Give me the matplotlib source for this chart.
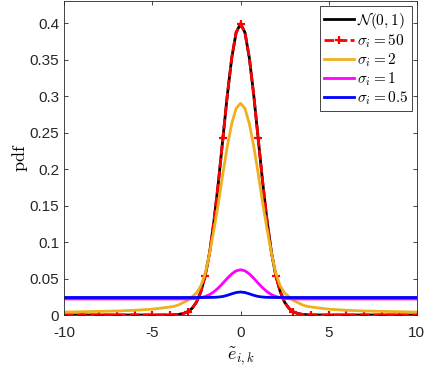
import numpy as np
import matplotlib
matplotlib.use('Agg')
import matplotlib.pyplot as plt

plt.rcParams['font.family'] = ['Liberation Sans', 'DejaVu Sans']
plt.rcParams['mathtext.fontset'] = 'cm'

# ______ values (symmetric about 0) ______
x_half = [0, 0.25, 0.5, 0.75, 1.0, 1.25, 1.5, 1.75, 2.0, 2.25, 2.5, 2.75,
          3.0, 3.25, 3.5, 3.75, 4.0, 5, 6, 7, 8, 9, 10]
normal_half = [0.399, 0.387, 0.352, 0.301, 0.242, 0.183, 0.130, 0.086, 0.054,
               0.032, 0.0175, 0.009, 0.0044, 0.002, 0.0009, 0.0004, 0.0001,
               0, 0, 0, 0, 0, 0]
s50_half = normal_half
s2_half = [0.290, 0.283, 0.262, 0.231, 0.194, 0.154, 0.118, 0.085, 0.057,
           0.040, 0.030, 0.025, 0.020, 0.017, 0.014, 0.012, 0.011,
           0.008, 0.0065, 0.0055, 0.005, 0.0045, 0.004]
s1_half = [0.062, 0.0605, 0.0563, 0.0503, 0.0436, 0.0373, 0.0320, 0.0280,
           0.0254, 0.0238, 0.0228, 0.0223, 0.0221, 0.022, 0.022, 0.022, 0.022,
           0.022, 0.022, 0.022, 0.022, 0.022, 0.022]
s05_half = [0.0315, 0.0308, 0.0290, 0.0270, 0.0254, 0.0246, 0.0242, 0.0241,
            0.024, 0.024, 0.024, 0.024, 0.024, 0.024, 0.024, 0.024, 0.024,
            0.024, 0.024, 0.024, 0.024, 0.024, 0.024]


def mirror(h):
    h = list(h)
    return np.array(h[:0:-1] + h)


x = np.concatenate([-np.array(x_half[:0:-1]), np.array(x_half)])
normal = mirror(normal_half)
s50 = mirror(s50_half)
s2 = mirror(s2_half)
s1 = mirror(s1_half)
s05 = mirror(s05_half)

marks = [i for i, v in enumerate(x) if float(v).is_integer()]

fig = plt.figure(figsize=(4.28, 3.68), dpi=100)
ax = fig.add_axes([0.150, 0.144, 0.824, 0.853])

ax.plot(x, normal, '-', color='k', lw=2.0, label=r'$\mathcal{N}(0,1)$')
ax.plot(x, s50, color='r', lw=2.0, ls=(0, (3.5, 1.2)), marker='+', ms=6,
        mew=1.6, markevery=marks, label=r'$\sigma_i=50$')
ax.plot(x, s2, '-', color='#EDB120', lw=2.0, label=r'$\sigma_i=2$')
ax.plot(x, s1, '-', color='#FF00FF', lw=2.0, label=r'$\sigma_i=1$')
ax.plot(x, s05, '-', color='#0000FF', lw=2.0, label=r'$\sigma_i=0.5$')

ax.set_xlim(-10, 10)
ax.set_ylim(0, 0.43)
ax.set_xticks([-10, -5, 0, 5, 10])
ax.set_xticklabels(['-10', '-5', '0', '5', '10'])
ax.set_yticks([0, 0.05, 0.1, 0.15, 0.2, 0.25, 0.3, 0.35, 0.4])
ax.set_yticklabels(['0', '0.05', '0.1', '0.15', '0.2', '0.25', '0.3', '0.35', '0.4'])
ax.tick_params(direction='in', length=3, width=0.6, labelsize=11,
               colors='#262626', top=True, right=True)
ax.tick_params(axis='x', pad=8)
for s in ax.spines.values():
    s.set_color('#262626')
    s.set_linewidth(0.6)

ax.set_xlabel(r'$\tilde{e}_{i,k}$', fontsize=13, labelpad=4)
ax.set_ylabel(r'$\mathrm{pdf}$', fontsize=13, labelpad=0)

leg = ax.legend(loc='upper right', fontsize=11, handlelength=2.0,
                handletextpad=0.2, borderpad=0.25, labelspacing=0.1,
                fancybox=False, framealpha=1, borderaxespad=0.3)
leg.get_frame().set_edgecolor('#262626')
leg.get_frame().set_linewidth(0.6)

plt.savefig('out.png', dpi=100)
